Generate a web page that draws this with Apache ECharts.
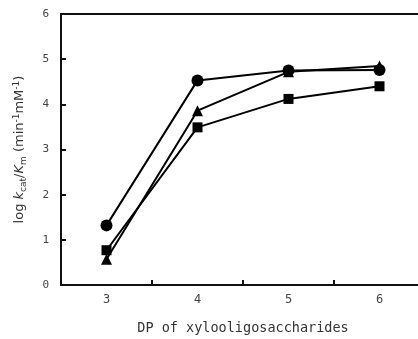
<!DOCTYPE html>
<html><head><meta charset="utf-8">
<script src="https://cdn.jsdelivr.net/npm/echarts@6/dist/echarts.min.js"></script>
<style>html,body{margin:0;padding:0;background:#fff}#c{width:418px;height:339px}</style>
</head><body><div id="c"></div>
<script>
const categories = ['3', '4', '5', '6'];
const circleValues = [1.32, 4.53, 4.75, 4.76];
const triangleValues = [0.57, 3.86, 4.72, 4.85];
const squareValues = [0.77, 3.49, 4.12, 4.40];
const yTicks = [0, 1, 2, 3, 4, 5, 6];

const chart = echarts.init(document.getElementById('c'));
const font = 'DejaVu Sans';
function line(data, symbol, size) {
  return {
    type: 'line', data: data, symbol: symbol, symbolSize: size,
    lineStyle: { color: '#000', width: 2 }, itemStyle: { color: '#000' },
    animation: false
  };
}
chart.setOption({
  animation: false,
  grid: { left: 61, top: 14, width: 364, height: 271, show: false,
          outerBoundsMode: 'none', containLabel: false },
  xAxis: [{
    type: 'category', data: categories, boundaryGap: true,
    axisLine: { lineStyle: { color: '#111', width: 2 } },
    axisTick: { show: true, interval: 0, inside: true, length: 5, lineStyle: { color: '#111', width: 2 } },
    axisLabel: { color: '#444', fontSize: 12, fontFamily: 'DejaVu Sans Mono', margin: 9 },
    name: 'DP of xylooligosaccharides', nameLocation: 'middle', nameGap: 36,
    nameTextStyle: { color: '#333', fontSize: 13.5, fontFamily: 'DejaVu Sans Mono' }
  }, {
    type: 'category', data: categories, position: 'top',
    axisLine: { show: true, lineStyle: { color: '#111', width: 2 } },
    axisTick: { show: false }, axisLabel: { show: false }
  }],
  yAxis: {
    type: 'value', min: yTicks[0], max: yTicks[yTicks.length - 1], interval: 1,
    splitLine: { show: false },
    axisLine: { show: true, lineStyle: { color: '#111', width: 2 } },
    axisTick: { show: true, inside: true, length: 5, lineStyle: { color: '#111', width: 2 } },
    axisLabel: { color: '#444', fontSize: 11, fontFamily: 'DejaVu Sans Mono', margin: 12 },
    name: '{n|log }{i|k}{s|cat}{n|/}{i|K}{s|m}{n| (min}{p|-1}{n|mM}{p|-1}{n|)}',
    nameLocation: 'middle', nameRotate: 90, nameGap: 33,
    nameTextStyle: {
      color: '#333', fontSize: 13, fontFamily: font,
      rich: {
        n: { fontSize: 13, fontFamily: font, color: '#333' },
        i: { fontSize: 13, fontFamily: font, fontStyle: 'italic', color: '#333' },
        s: { fontSize: 9, fontFamily: font, color: '#333', verticalAlign: 'bottom', padding: [7, 0, 0, 0] },
        p: { fontSize: 9, fontFamily: font, color: '#333', verticalAlign: 'top', padding: [0, 0, 7, 0] }
      }
    }
  },
  series: [
    line(squareValues, 'rect', 10),
    line(triangleValues, 'triangle', 11),
    line(circleValues, 'circle', 12)
  ]
});
</script></body></html>
